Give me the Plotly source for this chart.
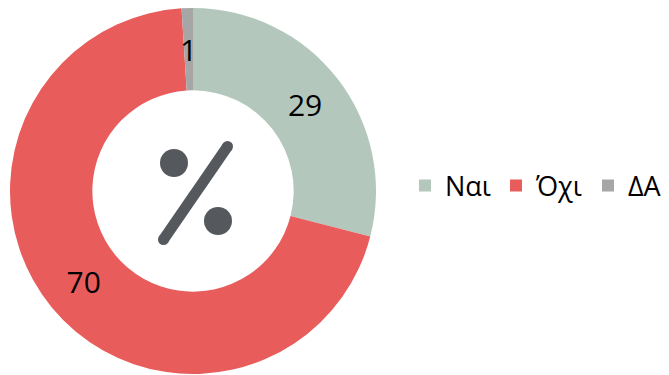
import math
import plotly.graph_objects as go

# Survey answers (percent)
labels = ["Ναι", "Όχι", "ΔΑ"]
values = [29, 70, 1]
colors = ["#b3c7bd", "#e85c5c", "#a6a6a6"]

W, H = 669, 375
FONT = "Open Sans"
HOLE = 0.55
NUM_SIZE = 30


def px(x):
    return x / W


def py(y):
    return 1 - y / H


# Ring placement in pixels
ring_x = (10, 376)
ring_y = (8, 374)

# Thin slices get their value label drawn as an annotation at the slice's mid-angle
total = sum(values)
thin = [v / total < 0.05 for v in values]
slice_text = ["" if t else str(v) for v, t in zip(values, thin)]

fig = go.Figure(
    go.Pie(
        labels=labels,
        values=values,
        text=slice_text,
        textinfo="text",
        marker=dict(colors=colors, line=dict(width=0)),
        hole=HOLE,
        sort=False,
        direction="clockwise",
        rotation=0,
        textposition="inside",
        insidetextorientation="horizontal",
        textfont=dict(family=FONT, size=NUM_SIZE, color="#000000"),
        domain=dict(x=[px(ring_x[0]), px(ring_x[1])], y=[py(ring_y[1]), py(ring_y[0])]),
        hoverinfo="label+value",
    )
)

cx = (ring_x[0] + ring_x[1]) / 2
cy = (ring_y[0] + ring_y[1]) / 2
R = (ring_x[1] - ring_x[0]) / 2
r_mid = R * (1 + HOLE) / 2
annotations = []
cum = 0
for v, t in zip(values, thin):
    mid = (cum + v / 2) / total * 2 * math.pi
    cum += v
    if t:
        ax = cx + r_mid * math.sin(mid)
        ay = cy - r_mid * math.cos(mid)
        annotations.append(dict(x=px(ax), y=py(ay), xref="paper", yref="paper",
                                xanchor="center", yanchor="middle",
                                text=str(v), showarrow=False,
                                font=dict(family=FONT, size=NUM_SIZE, color="#000000")))

# Percent icon in the middle of the ring
icon = "#55595e"
shapes = []
for dx, dy, r in [(174, 163, 14), (218, 221, 14)]:
    shapes.append(dict(type="circle", xref="paper", yref="paper",
                       x0=px(dx - r), x1=px(dx + r), y0=py(dy + r), y1=py(dy - r),
                       fillcolor=icon, line=dict(width=0)))
x0, y0, x1, y1 = 227.5, 146.5, 163.5, 239.5
shapes.append(dict(type="line", xref="paper", yref="paper",
                   x0=px(x0), y0=py(y0), x1=px(x1), y1=py(y1),
                   line=dict(color=icon, width=11)))
for ex, ey in [(x0, y0), (x1, y1)]:
    r = 5.5
    shapes.append(dict(type="circle", xref="paper", yref="paper",
                       x0=px(ex - r), x1=px(ex + r), y0=py(ey + r), y1=py(ey - r),
                       fillcolor=icon, line=dict(width=0)))

fig.update_layout(
    width=W,
    height=H,
    margin=dict(l=0, r=0, t=0, b=0),
    paper_bgcolor="#ffffff",
    plot_bgcolor="#ffffff",
    shapes=shapes,
    annotations=annotations,
    uniformtext=dict(minsize=NUM_SIZE, mode="show"),
    showlegend=True,
    legend=dict(
        orientation="h",
        x=px(405),
        xanchor="left",
        y=py(186),
        yanchor="middle",
        font=dict(family=FONT, size=27, color="#000000"),
        itemclick=False,
    ),
)

fig.write_html("out.html")
